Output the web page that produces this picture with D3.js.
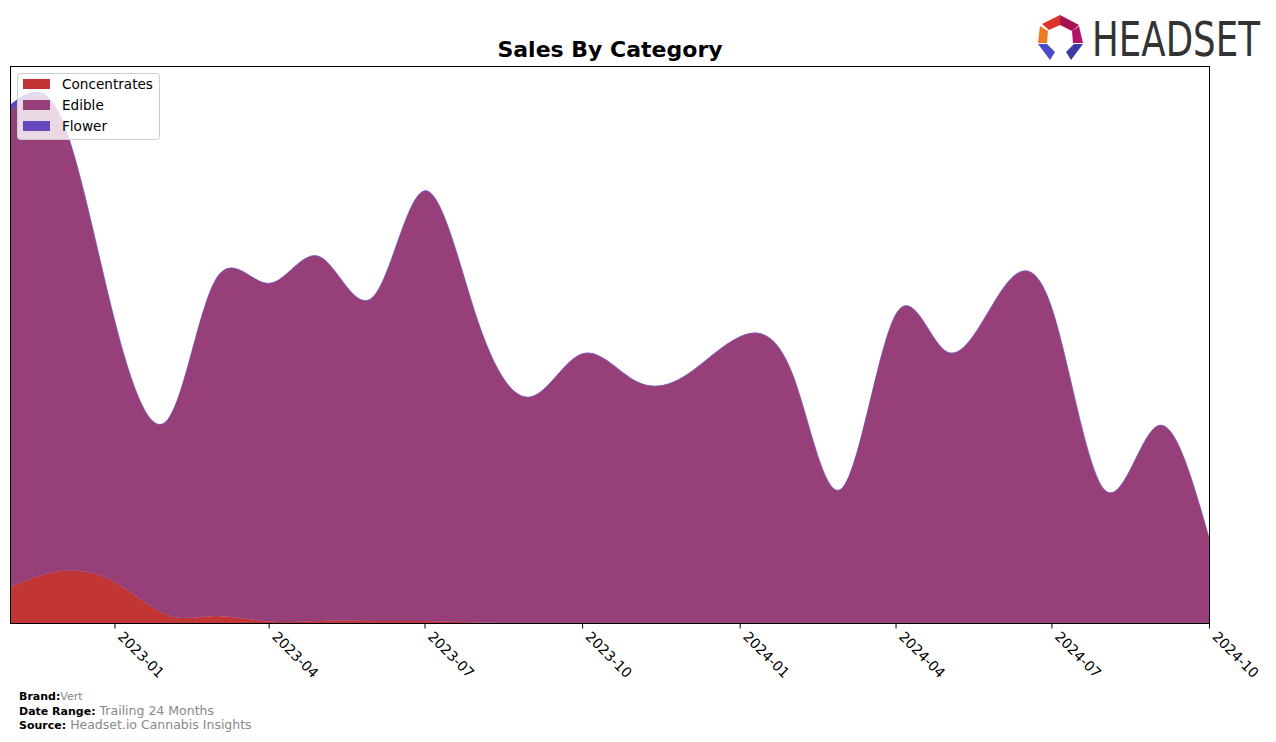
<!DOCTYPE html>
<html>
<head>
<meta charset="utf-8">
<script src="https://cdn.jsdelivr.net/npm/d3@7"></script>
<style>
  body { margin: 0; background: #fff; }
  svg { display: block; }
  text { font-family: "DejaVu Sans", sans-serif; }
</style>
</head>
<body>
<svg id="chart" width="1276" height="742"></svg>
<script>
// ---- data ----
const months = ["2022-11","2022-12","2023-01","2023-02","2023-03","2023-04","2023-05","2023-06",
  "2023-07","2023-08","2023-09","2023-10","2023-11","2023-12","2024-01","2024-02","2024-03",
  "2024-04","2024-05","2024-06","2024-07","2024-08","2024-09","2024-10"];
const categories = ["Concentrates", "Edible", "Flower"];
const concentrates = [36, 52, 41, 8, 7, 1.5, 2, 2, 2, 0.5, 0, 0, 0, 0, 0, 0, 0, 0, 0, 0, 0, 0, 0, 0];
const edible = [475, 452, 262, 195, 336, 338, 364, 324, 430, 302, 226, 269, 242, 248, 286, 248, 135, 308, 271, 330, 316, 133, 197, 85];
const flower = [7, 1, 0.3, 0.3, 0.3, 0.3, 0.3, 0.3, 0.3, 0.3, 0.3, 0.3, 0.3, 0.3, 0.3, 0.3, 0.3, 0.3, 0.3, 0.3, 0.3, 0.3, 0.3, 0.3];
const colors = ["#c23535", "#963f78", "#6646bd"];
const tickFormat = "%Y-%m";

// ---- layout ----
const svg = d3.select("#chart");
const m = { left: 10, top: 66, right: 1209, bottom: 623 };
const parse = d3.timeParse("%Y-%m");
const table = months.map((mo, i) => ({
  date: parse(mo), Concentrates: concentrates[i], Edible: edible[i], Flower: flower[i]
}));

const x = d3.scaleTime()
  .domain([table[0].date, table[table.length - 1].date])
  .range([m.left, m.right]);
const y = d3.scaleLinear().domain([0, 557]).range([m.bottom, m.top]);

const series = d3.stack().keys(categories)(table);

svg.append("clipPath").attr("id", "clip")
  .append("rect").attr("x", m.left).attr("y", m.top)
  .attr("width", m.right - m.left).attr("height", m.bottom - m.top);

const area = d3.area()
  .x(d => x(d.data.date))
  .y0(d => y(d[0]))
  .y1(d => y(d[1]))
  .curve(d3.curveNatural);

const g = svg.append("g").attr("clip-path", "url(#clip)");
g.selectAll("path.layer").data(series).join("path")
  .attr("class", "layer")
  .attr("fill", (d, i) => colors[i])
  .attr("stroke", (d, i) => colors[i])
  .attr("stroke-width", 0.3)
  .attr("d", area);

// frame
svg.append("rect").attr("x", m.left + 0.5).attr("y", m.top + 0.5)
  .attr("width", m.right - m.left).attr("height", m.bottom - m.top)
  .attr("fill", "none").attr("stroke", "#000").attr("stroke-width", 1);

// x axis
const xAxis = d3.axisBottom(x)
  .ticks(d3.timeMonth.every(3))
  .tickFormat(d3.timeFormat(tickFormat))
  .tickSize(5).tickSizeOuter(0);
const ax = svg.append("g").attr("transform", `translate(0,${m.bottom + 0.5})`).call(xAxis);
ax.select(".domain").remove();
ax.selectAll(".tick line").attr("stroke", "#000");
ax.selectAll(".tick text")
  .attr("font-size", 14).attr("fill", "#000")
  .attr("text-anchor", "start")
  .attr("dy", 0).attr("y", 0)
  .attr("transform", "translate(2,14) rotate(45)");

// title
svg.append("text").attr("x", 610).attr("y", 57).attr("text-anchor", "middle")
  .attr("font-size", 22).attr("font-weight", "bold").text("Sales By Category");

// legend
const lg = svg.append("g");
lg.append("rect").attr("x", 17.5).attr("y", 73.5).attr("width", 142).attr("height", 66)
  .attr("rx", 3).attr("fill", "#fff").attr("fill-opacity", 0.8)
  .attr("stroke", "#ccc").attr("stroke-width", 1);
categories.forEach((c, i) => {
  lg.append("rect").attr("x", 23).attr("y", 79 + i * 21).attr("width", 27).attr("height", 10)
    .attr("fill", colors[i]);
  lg.append("text").attr("x", 62).attr("y", 89 + i * 21).attr("font-size", 13.6).text(c);
});

// footer
const foot = [["Brand:", "Vert"], ["Date Range:", "Trailing 24 Months"], ["Source:", "Headset.io Cannabis Insights"]];
foot.forEach((f, i) => {
  const t = svg.append("text").attr("x", 19).attr("y", 700 + i * 14.5);
  t.append("tspan").attr("font-size", 11).attr("font-weight", "bold").attr("fill", "#000").text(f[0]);
  t.append("tspan").attr("font-size", i === 0 ? 11 : 12.5).attr("fill", "#888").attr("dx", i === 0 ? 0 : 4).text(f[1]);
});

// logo
const logo = svg.append("g");
const polys = [
  { c: "#e0322a", p: [[1042,24],[1049,30],[1060,25],[1060,15]] },
  { c: "#a8124e", p: [[1060,15],[1079,25],[1072,31],[1060,25]] },
  { c: "#f07a22", p: [[1040,26],[1048,31],[1047,43],[1038,43]] },
  { c: "#b0156a", p: [[1079,26],[1072,31],[1073,43],[1083,43]] },
  { c: "#4a4ac8", p: [[1038,44],[1047,44],[1055,52],[1050,60]] },
  { c: "#3a3aa8", p: [[1083,44],[1074,44],[1066,52],[1071,60]] }
];
polys.forEach(o => logo.append("polygon").attr("points", o.p.map(q => q.join(",")).join(" ")).attr("fill", o.c));
const lt = logo.append("text").attr("x", 0).attr("y", 0).attr("font-size", 48)
  .attr("font-family", "'DejaVu Sans Condensed', 'DejaVu Sans', sans-serif")
  .attr("fill", "#333")
  .text("HEADSET");
const natW = lt.node().getComputedTextLength();
lt.attr("transform", `translate(1092,56) scale(${(168 / natW).toFixed(4)},1)`);
</script>
</body>
</html>
